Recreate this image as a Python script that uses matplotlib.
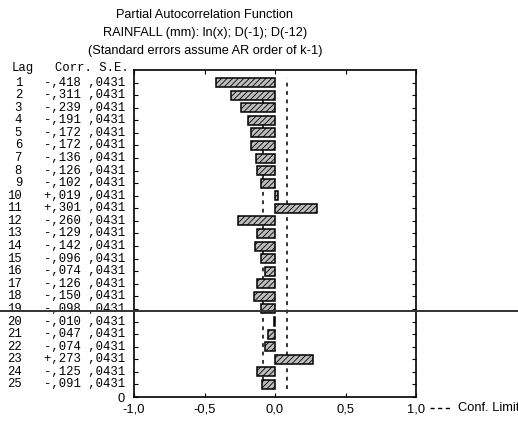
import numpy as np
import matplotlib.pyplot as plt
from matplotlib import transforms
from matplotlib.lines import Line2D

lags = np.arange(1, 26)
corr = [-0.418, -0.311, -0.239, -0.191, -0.172, -0.172, -0.136, -0.126, -0.102,
        0.019, 0.301, -0.260, -0.129, -0.142, -0.096, -0.074, -0.126, -0.150,
        -0.098, -0.010, -0.047, -0.074, 0.273, -0.125, -0.091]
se = [0.0431] * 25
xticks = [-1.0, -0.5, 0.0, 0.5, 1.0]
xtick_labels = ["-1,0", "-0,5", "0,0", "0,5", "1,0"]

plt.rcParams['hatch.linewidth'] = 0.6
sans = ['Liberation Sans', 'DejaVu Sans']
mono = ['Liberation Mono', 'DejaVu Sans Mono']

fig = plt.figure(figsize=(5.18, 4.21), dpi=100)
ax = fig.add_axes([134 / 518, 1 - 397 / 421, 282 / 518, 327 / 421])

ypos = 26 - lags
ax.barh(ypos, corr, height=0.72, color='#bdbdbd', edgecolor='black',
        hatch='//////', linewidth=1.1, zorder=3)

conf = 2 * se[0]
for x in (-conf, conf):
    ax.plot([x, x], [0.6, 25.4], color='black', lw=1.1,
            dashes=(2.5, 3), zorder=2)

ax.set_xlim(-1, 1)
ax.set_ylim(0, 26)
ax.set_xticks(xticks)
ax.set_xticklabels(xtick_labels, fontfamily=sans, fontsize=9.3)
ax.set_yticks(np.arange(0, 26))
ax.set_yticklabels(['0'] + [''] * 25, fontfamily=sans, fontsize=9.3)
ax.tick_params(axis='both', direction='in', length=3, width=0.8,
               top=True, right=True)
ax.tick_params(axis='x', pad=5)
ax.tick_params(axis='y', pad=7)
for s in ax.spines.values():
    s.set_linewidth(1.2)

# table on the left
tr = transforms.blended_transform_factory(fig.transFigure, ax.transData)
fs = 8.8
fig.text(12 / 518, 1 - 68 / 421, "Lag", fontfamily=mono, fontsize=fs,
         va='center', ha='left')
fig.text(55 / 518, 1 - 68 / 421, "Corr. S.E.", fontfamily=mono, fontsize=fs,
         va='center', ha='left')
for lag, c, e, y in zip(lags, corr, se, ypos):
    sign = '+' if c > 0 else '-'
    ctxt = "%s,%03d" % (sign, round(abs(c) * 1000))
    etxt = ",%04d" % round(e * 10000)
    ax.text(22 / 518, y, str(lag), transform=tr, fontfamily=mono, fontsize=fs,
            va='center', ha='right')
    ax.text(44 / 518, y, ctxt + " " + etxt, transform=tr, fontfamily=mono,
            fontsize=fs, va='center', ha='left')

# titles
cx = 205 / 518
fig.text(cx, 1 - 15 / 421, "Partial Autocorrelation Function",
         fontfamily=sans, fontsize=9.2, ha='center', va='center')
fig.text(cx, 1 - 33 / 421, "RAINFALL (mm): ln(x); D(-1); D(-12)",
         fontfamily=sans, fontsize=9.2, ha='center', va='center')
fig.text(cx, 1 - 51 / 421, "(Standard errors assume AR order of k-1)",
         fontfamily=sans, fontsize=9.2, ha='center', va='center')

# legend
fig.add_artist(Line2D([430 / 518, 452 / 518], [1 - 408 / 421] * 2,
                      color='black', lw=1.0, dashes=(3, 2.5)))
fig.text(458 / 518, 1 - 408 / 421, "Conf. Limit", fontfamily=sans,
         fontsize=9.3, ha='left', va='center')

# horizontal rule crossing the page
fig.add_artist(Line2D([0, 1], [1 - 311 / 421] * 2, color='#333333', lw=1.4))

fig.savefig("out.png", dpi=100)
